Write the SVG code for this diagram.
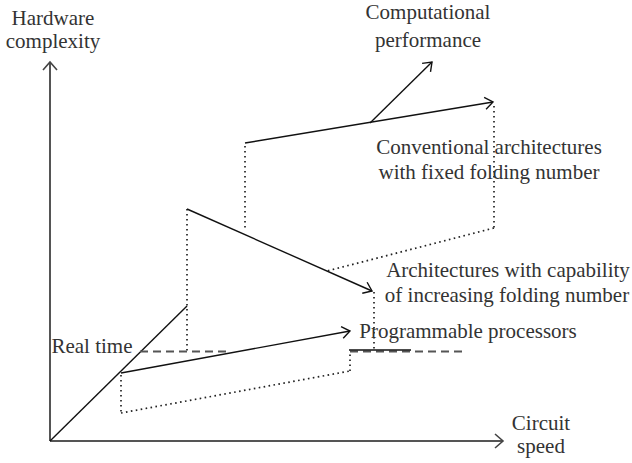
<svg xmlns="http://www.w3.org/2000/svg" width="632" height="463" viewBox="0 0 632 463">
<style>
  text { font-family: "Liberation Serif", "Times New Roman", serif; font-size: 21px; fill: #333; }
  .axis { stroke: #555; stroke-width: 2; fill: none; }
  .solid { stroke: #111; stroke-width: 1.4; fill: none; }
  .dot { stroke: #222; stroke-width: 1.7; stroke-dasharray: 1.6 3.4; fill: none; }
  .dash { stroke: #555; stroke-width: 2; stroke-dasharray: 8 5; fill: none; }
</style>
<defs>
  <marker id="ah" markerUnits="userSpaceOnUse" viewBox="-12 -10 14 20" markerWidth="14" markerHeight="20" refX="0" refY="0" orient="auto">
    <path d="M-8,-6 L0,0 L-8,6" fill="none" stroke="#111" stroke-width="1.4"/>
  </marker>
  <marker id="axh" markerUnits="userSpaceOnUse" viewBox="-12 -10 14 20" markerWidth="14" markerHeight="20" refX="0" refY="0" orient="auto">
    <path d="M-8,-7 L0,0 L-8,7" fill="none" stroke="#444" stroke-width="1.6"/>
  </marker>
</defs>
<rect width="632" height="463" fill="#fff"/>
<g id="connectors">
  <line class="axis" x1="50" y1="441" x2="50" y2="62" marker-end="url(#axh)"/>
  <line class="axis" x1="50" y1="441" x2="503" y2="441" marker-end="url(#axh)"/>
  <line class="solid" x1="50" y1="441" x2="187" y2="306"/>
  <line class="dot" x1="187" y1="209" x2="187" y2="351"/>
  <line class="solid" x1="187" y1="209" x2="372" y2="291" marker-end="url(#ah)"/>
  <line class="dot" x1="374" y1="292" x2="374" y2="350"/>
  <line class="solid" x1="245" y1="143" x2="493" y2="102" marker-end="url(#ah)"/>
  <line class="solid" x1="370" y1="123" x2="432" y2="62" marker-end="url(#ah)"/>
  <line class="dot" x1="245" y1="146" x2="245" y2="228"/>
  <line class="dot" x1="494" y1="106" x2="494" y2="228"/>
  <line class="dot" x1="494" y1="228" x2="327" y2="271"/>
  <line class="solid" x1="121" y1="373" x2="350" y2="331" marker-end="url(#ah)"/>
  <line class="dot" x1="121" y1="375" x2="121" y2="413"/>
  <line class="dot" x1="121" y1="413" x2="350" y2="371"/>
  <line class="dot" x1="350" y1="371" x2="350" y2="351"/>
  <line class="dash" x1="140" y1="351.5" x2="230" y2="351.5"/>
  <line class="dash" x1="350" y1="351.5" x2="463" y2="351.5"/>
  <line class="solid" x1="349" y1="350" x2="411" y2="350"/>
</g>
<g id="hardware-complexity"><text x="53" y="25" text-anchor="middle">Hardware</text><text x="53" y="48" text-anchor="middle">complexity</text></g>
<g id="computational-performance"><text x="428" y="19" text-anchor="middle">Computational</text><text x="428" y="47" text-anchor="middle">performance</text></g>
<g id="conventional"><text x="489" y="154" text-anchor="middle">Conventional architectures</text><text x="489" y="179" text-anchor="middle">with fixed folding number</text></g>
<g id="increasing"><text x="508" y="277" text-anchor="middle">Architectures with capability</text><text x="507" y="302" text-anchor="middle">of increasing folding number</text></g>
<g id="programmable"><text x="468" y="338" text-anchor="middle">Programmable processors</text></g>
<g id="real-time"><text x="92" y="353" text-anchor="middle">Real time</text></g>
<g id="circuit-speed"><text x="541" y="430" text-anchor="middle">Circuit</text><text x="541" y="453" text-anchor="middle">speed</text></g>
</svg>
